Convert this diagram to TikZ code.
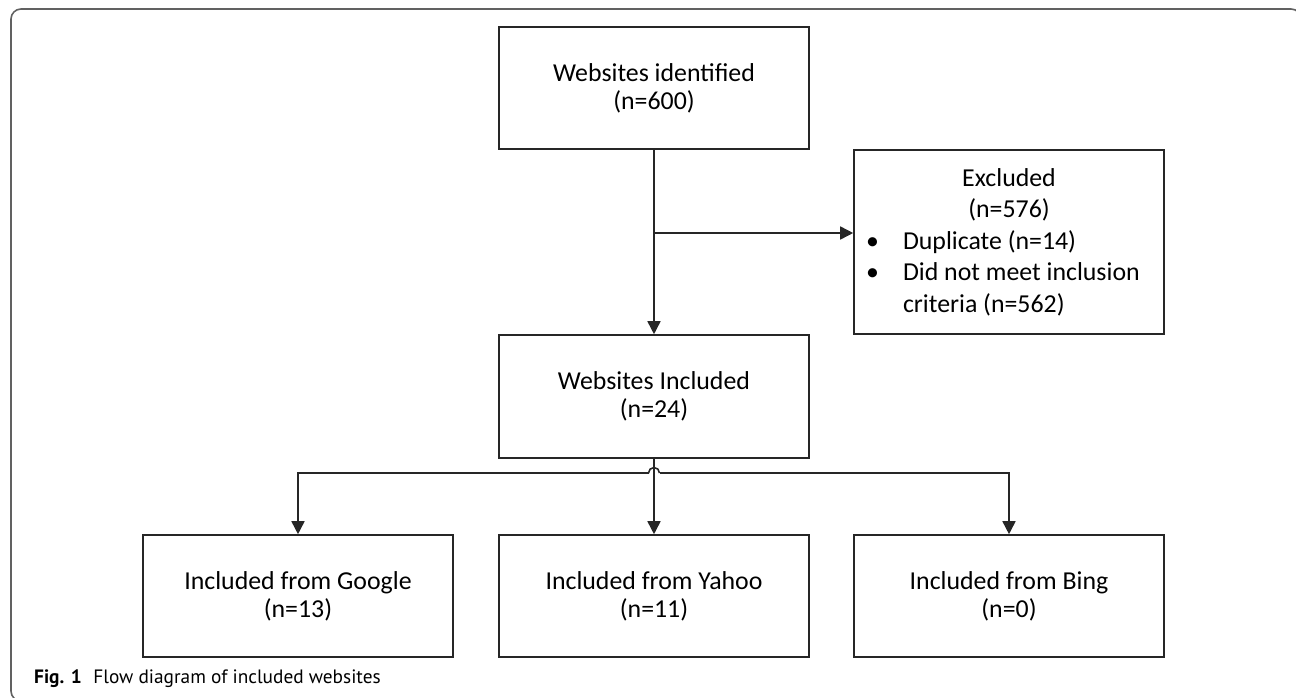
\documentclass[tikz,border=0pt]{standalone}
\usepackage{fontspec}
\setmainfont{Carlito}
\newfontfamily\capfont{PT Sans}
\usetikzlibrary{arrows.meta}

\tikzstyle{stagebox}=[draw=black!85,line width=0.9pt,minimum width=6.2cm,minimum height=2.44cm,align=center,inner sep=0pt]
\tikzstyle{link}=[draw=black!85,line width=0.9pt]
\tikzstyle{flow}=[link,-{Triangle[length=7.4pt,width=7.4pt]}]

\begin{document}
\begin{tikzpicture}[font=\fontsize{14.7}{15.9}\selectfont]
\useasboundingbox (0,0) rectangle (25.92,-13.94);
\begin{scope}
\clip (0,0) rectangle (25.92,-13.94);
\draw[black!62,line width=0.9pt,rounded corners=0.2cm] (0.22,-0.18) rectangle (26.02,-14.02);
\end{scope}

\node[stagebox] (identified) at (13.08,-1.76) {Websites identified\\(n=600)};
\node[stagebox,minimum height=2.46cm] (included) at (13.08,-7.93) {Websites Included\\(n=24)};
\node[stagebox,minimum height=3.68cm,text width=6.2cm,align=none,font=\fontsize{14.7}{17.9}\selectfont] (excluded) at (20.18,-4.84) {%
{\centering Excluded\\(n=576)\par}
\raggedright
\hspace*{0.24cm}\makebox[0.74cm][l]{\textbullet}Duplicate (n=14)\\
\hspace*{0.24cm}\makebox[0.74cm][l]{\textbullet}Did not meet inclusion\\
\hspace*{0.98cm}criteria (n=562)};
\node[stagebox] (google) at (5.96,-11.92) {Included from Google\\(n=13)};
\node[stagebox] (yahoo) at (13.08,-11.92) {Included from Yahoo\\(n=11)};
\node[stagebox] (bing) at (20.18,-11.92) {Included from Bing\\(n=0)};

\draw[flow] (identified) -- (included);
\coordinate (tap) at (13.08,-4.66);
\draw[flow] (tap) -- (tap -| excluded.west);

\coordinate (bus) at (13.08,-9.46);
\draw[flow] ([xshift=-0.11cm]bus) -- (bus -| google.north) -- (google.north);
\draw[flow] ([xshift=0.11cm]bus) -- (bus -| bing.north) -- (bing.north);
\draw[link] ([xshift=-0.11cm]bus) arc[start angle=180,end angle=0,radius=0.11cm];
\draw[flow] (included) -- (yahoo);

\node[anchor=base west,font=\capfont\fontsize{11}{13}\selectfont] (caption) at (0.56,-13.66) {\textbf{Fig. 1}\hspace{0.6em}Flow diagram of included websites};
\end{tikzpicture}
\end{document}
